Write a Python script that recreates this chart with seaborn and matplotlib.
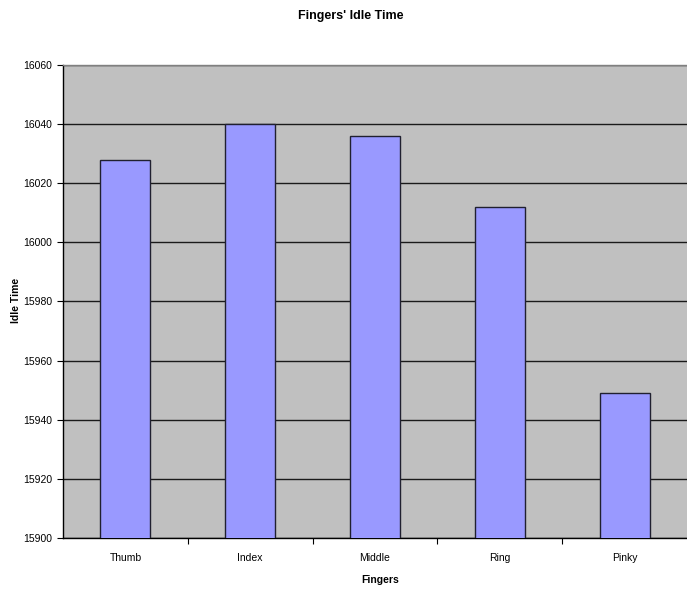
import matplotlib
matplotlib.use("Agg")
import matplotlib.pyplot as plt
from matplotlib.ticker import MultipleLocator, FixedLocator, NullFormatter
import seaborn as sns

fingers = ["Thumb", "Index", "Middle", "Ring", "Pinky"]
idle_time = [16028, 16040, 16036, 16012, 15949]

sns.set_theme(style="white")
plt.rcParams["font.family"] = ["Liberation Sans", "DejaVu Sans"]
plt.rcParams["text.color"] = "black"
plt.rcParams["xtick.color"] = "black"
plt.rcParams["ytick.color"] = "black"

W, H = 687, 591
fig = plt.figure(figsize=(W / 100, H / 100), dpi=100)
ax = fig.add_axes([63 / W, 53 / H, 624 / W, 473 / H])
ax.set_facecolor("#C0C0C0")

sns.barplot(x=fingers, y=idle_time, ax=ax, width=0.4, color="#9999FF",
            saturation=1, edgecolor="#202030", linewidth=1.0, zorder=3)

ax.set_ylim(15900, 16060)
ax.set_xlim(-0.5, len(fingers) - 0.5)
ax.yaxis.set_major_locator(MultipleLocator(20))
ax.grid(axis="y", color="#1a1a1a", linewidth=1.0, zorder=0)
ax.set_axisbelow(True)

# category separators as tick marks on the x axis
ax.xaxis.set_minor_locator(FixedLocator([i + 0.5 for i in range(len(fingers) - 1)]))
ax.xaxis.set_minor_formatter(NullFormatter())
ax.tick_params(axis="x", which="major", length=0, pad=11, labelsize=7.5, labelcolor="black")
ax.tick_params(axis="x", which="minor", length=4, width=0.8, color="black", direction="out", bottom=True)
ax.tick_params(axis="y", which="major", length=4, width=0.8, color="black", direction="out", left=True,
               labelsize=7.5, pad=4, labelcolor="black")

for side in ["left", "bottom"]:
    ax.spines[side].set_color("black")
    ax.spines[side].set_linewidth(1.0)
ax.spines["top"].set_color("#808080")
ax.spines["top"].set_linewidth(1.0)
ax.spines["right"].set_visible(False)

ax.set_xlabel("")
ax.set_ylabel("")
fig.text(380 / W, 1 - 580 / H, "Fingers", ha="center", va="center",
         fontsize=7.5, fontweight="bold", color="black")
fig.text(16 / W, 1 - 300 / H, "Idle Time", ha="center", va="center",
         rotation=90, fontsize=7.5, fontweight="bold", color="black")
fig.text(351 / W, 1 - 16 / H, "Fingers' Idle Time", ha="center", va="center",
         fontsize=9, fontweight="bold", color="black")

fig.savefig("out.png", dpi=100, facecolor="white")
